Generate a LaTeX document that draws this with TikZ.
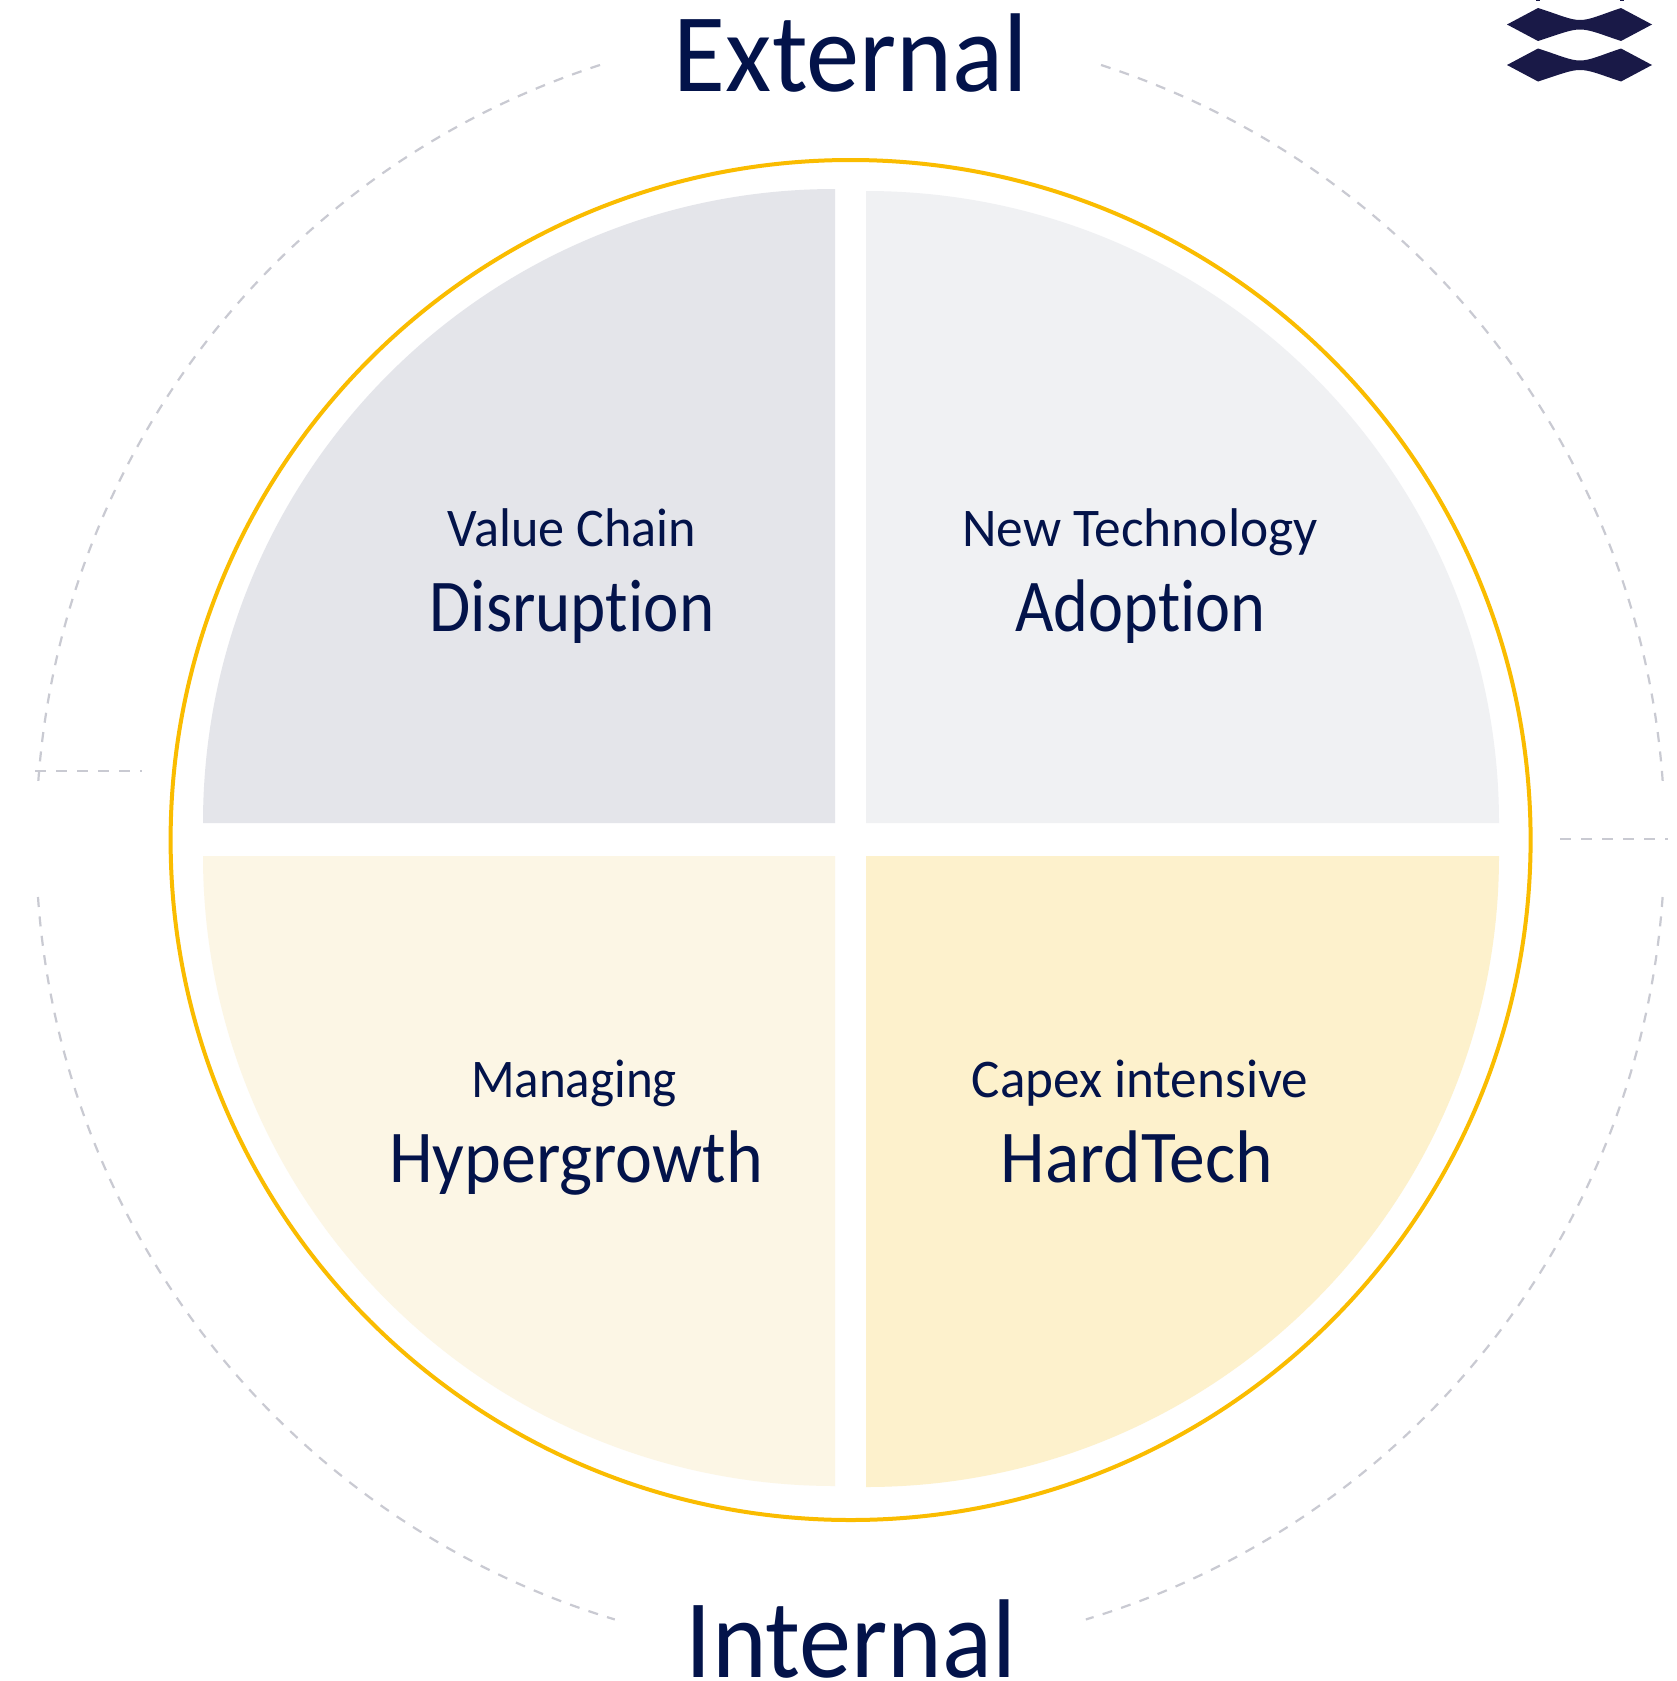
\documentclass[tikz,border=0pt]{standalone}
\usepackage{fontspec}
\setmainfont{Carlito}[Ligatures=NoCommon]
\definecolor{ink}{HTML}{03134A}
\definecolor{logoink}{HTML}{191947}
\definecolor{ringc}{HTML}{FABC00}
\definecolor{dashc}{HTML}{C9CAD2}
\definecolor{qa}{HTML}{E4E5EA}
\definecolor{qb}{HTML}{F0F1F3}
\definecolor{qc}{HTML}{FCF6E5}
\definecolor{qd}{HTML}{FDF1CC}
\tikzset{
 dashline/.style={draw=dashc,line width=2pt,dash pattern=on 11pt off 10pt},
 dasharc/.style={draw=dashc,line width=2.2pt,dash pattern=on 10pt off 9.5pt},
 big/.style={text=ink,inner sep=0pt,anchor=base,font=\fontsize{112}{112}\selectfont},
 mid/.style={text=ink,inner sep=0pt,anchor=base,font=\fontsize{74.5}{75}\selectfont},
 small/.style={text=ink,inner sep=0pt,anchor=base,font=\fontsize{54.5}{55}\selectfont}
}
\newcommand{\sq}[2]{\scalebox{#1}[1]{#2}}
\newcommand{\logoshape}[1]{%
 \fill[logoink,shift={(0,#1)}] (1507,24.5) -- (1538,8) .. controls (1560,15) and (1570,20) .. (1580,20) .. controls (1590,20) and (1600,15) .. (1621,8) -- (1652,24.5) -- (1621,41) .. controls (1600,34) and (1590,29.5) .. (1580,29.5) .. controls (1570,29.5) and (1560,34) .. (1538,41) -- cycle;}
\begin{document}
\begin{tikzpicture}[x=1pt,y=-1pt]
\useasboundingbox (0,0) rectangle (1676,1681);
\fill[white] (0,0) rectangle (1676,1681);
% quadrants
\fill[qa] (835,823) -- (203,823) arc[start angle=180,end angle=90,x radius=632pt,y radius=634pt] -- cycle;
\fill[qb] (866,823) -- (866,191) arc[start angle=90,end angle=0,x radius=633pt,y radius=632pt] -- cycle;
\fill[qc] (835,856) -- (835,1486) arc[start angle=270,end angle=180,x radius=632pt,y radius=630pt] -- cycle;
\fill[qd] (866,856) -- (1499,856) arc[start angle=0,end angle=-90,x radius=633pt,y radius=631pt] -- cycle;
% ring
\draw[ringc,line width=4pt] (850.6,840) circle[radius=680pt];
% dashed outer arcs
\draw[dasharc] (600,65) arc[start angle=107.9,end angle=176.2,radius=814pt];
\draw[dasharc] (1101,65) arc[start angle=72.1,end angle=3.8,radius=814pt];
\draw[dasharc] (38,897) arc[start angle=184,end angle=253.2,radius=814pt];
\draw[dasharc] (1662.6,897) arc[start angle=-4,end angle=-73.2,radius=814pt];
\draw[dashline] (35,771) -- (142,771);
\draw[dashline] (1560,839) -- (1668,839);
% logo
\logoshape{0}
\logoshape{40.5}
\fill[logoink] (1536,0) rectangle (1540,1);
\fill[logoink] (1620,0) rectangle (1624,1);
% labels
\node[big] (ext) at (851,91.5) {\sq{0.95}{External}};
\node[big] (int) at (851,1677) {\sq{0.93}{Internal}};
\node[small] (a1) at (572,546) {\sq{0.958}{Value Chain}};
\node[mid] (a2) at (572,631) {\sq{0.90}{Disruption}};
\node[small] (b1) at (1140,546) {\sq{0.98}{New Technology}};
\node[mid] (b2) at (1140.5,631) {\sq{0.89}{Adoption}};
\node[small] (c1) at (574,1097) {\sq{0.936}{Managing}};
\node[mid] (c2) at (576,1182) {\sq{0.94}{Hypergrowth}};
\node[small] (d1) at (1140,1097) {\sq{0.975}{Capex intensive}};
\node[mid] (d2) at (1137,1182) {\sq{0.96}{HardTech}};
\end{tikzpicture}
\end{document}
